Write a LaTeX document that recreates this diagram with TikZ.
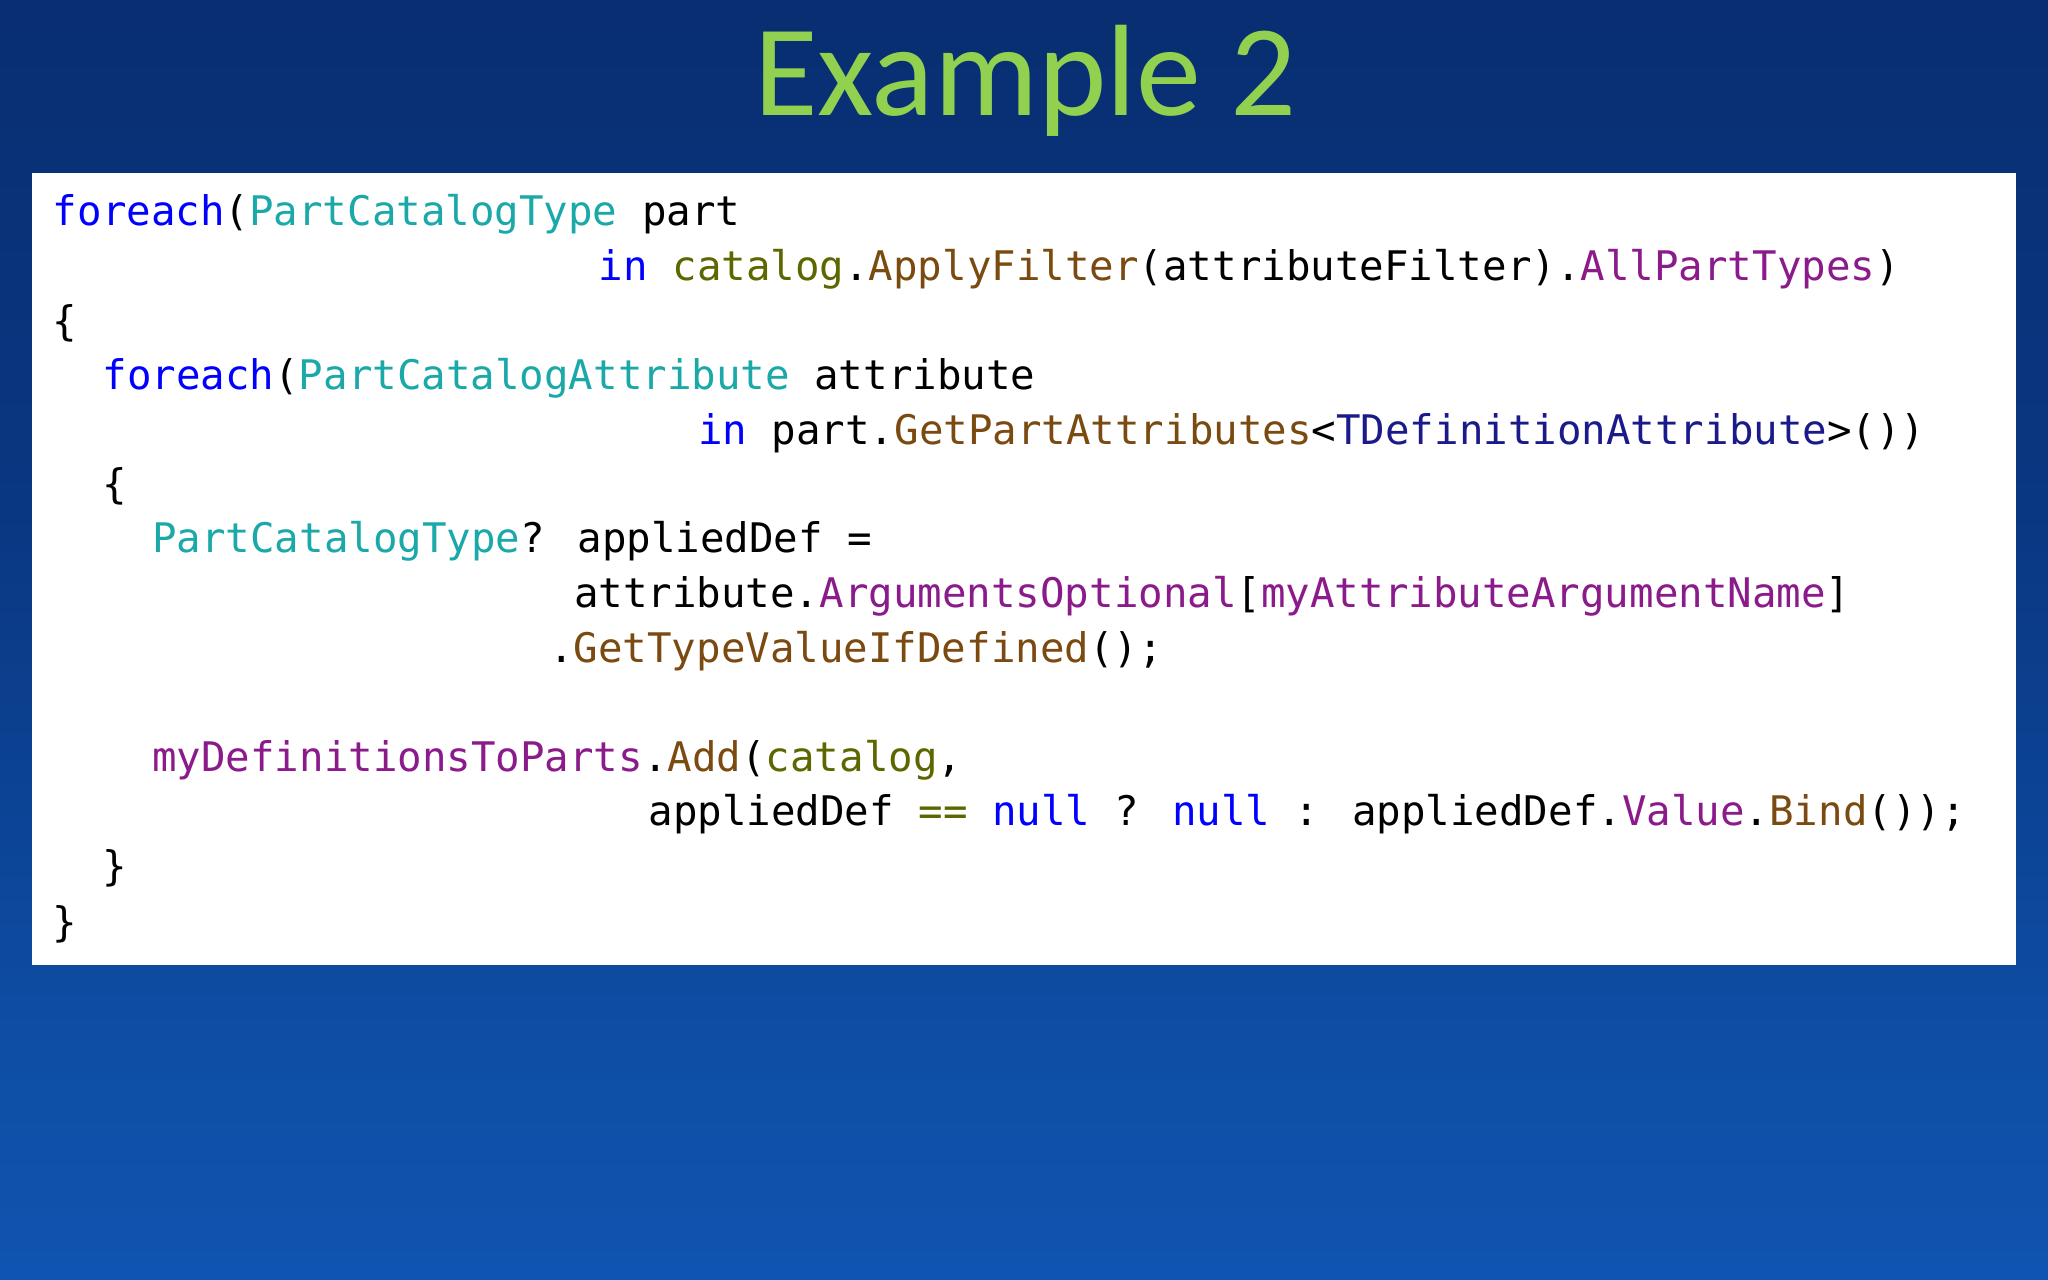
\documentclass[tikz,border=0pt]{standalone}
\usepackage{fontspec}
\newfontfamily\codefont{DejaVu Sans Mono}
\newfontfamily\titlefont{Carlito}
\definecolor{kw}{HTML}{0000FF}
\definecolor{ty}{HTML}{1BA8A8}
\definecolor{me}{HTML}{7A4A10}
\definecolor{pr}{HTML}{8B1A8B}
\definecolor{ol}{HTML}{5E6600}
\definecolor{tp}{HTML}{1A1A8A}
\definecolor{ttl}{HTML}{92D050}
\definecolor{bga}{RGB}{2,8,25}
\definecolor{bgb}{RGB}{4,22,62}
\definecolor{bgc}{RGB}{16,86,180}
\definecolor{bgd}{RGB}{14,80,168}
\definecolor{bge}{RGB}{10,55,130}
\definecolor{bgf}{RGB}{8,42,105}
\definecolor{bgg}{RGB}{5,25,70}
\pgfdeclareverticalshading{bgshade}{100bp}{
  color(0bp)=(bga);
  color(12bp)=(bgb);
  color(22bp)=(bgc);
  color(32bp)=(bgd);
  color(55bp)=(bge);
  color(85bp)=(bgf);
  color(100bp)=(bgg)}
\newcommand{\K}[1]{\textcolor{kw}{#1}}
\newcommand{\T}[1]{\textcolor{ty}{#1}}
\newcommand{\M}[1]{\textcolor{me}{#1}}
\newcommand{\PP}[1]{\textcolor{pr}{#1}}
\newcommand{\OL}[1]{\textcolor{ol}{#1}}
\newcommand{\TP}[1]{\textcolor{tp}{#1}}
\begin{document}
\begin{tikzpicture}[x=0.01306cm,y=-0.01306cm,
  code/.style={anchor=base west,inner sep=0,font=\codefont\fontsize{11.6pt}{14pt}\selectfont,text=black}]
\useasboundingbox (0,0) rectangle (1568,980);
\shade[shading=bgshade] (0,0) rectangle (1568,980);
\node[font=\titlefont\fontsize{37pt}{40pt}\selectfont, text=ttl] (title) at (785,62) {Example 2};
\node[draw=none, fill=white, minimum width=1519*0.01306cm, minimum height=606*0.01306cm, anchor=north west, inner sep=0] (box) at (24,132) {};
\def\cw{19}
\node[code] (l0) at (40,173) {\K{foreach}(\T{PartCatalogType} part};
\node[code] (l1) at (40+22*\cw,215) {\K{in} \OL{catalog}.\M{ApplyFilter}(attributeFilter).\PP{AllPartTypes})};
\node[code] (l2) at (40,257) {\{};
\node[code] (l3) at (40+2*\cw,298) {\K{foreach}(\T{PartCatalogAttribute} attribute};
\node[code] (l4) at (40+26*\cw,340) {\K{in} part.\M{GetPartAttributes}<\TP{TDefinitionAttribute}>())};
\node[code] (l5) at (40+2*\cw,382) {\{};
\node[code] (l6) at (40+4*\cw,423) {\T{PartCatalogType}? appliedDef =};
\node[code] (l7) at (40+21*\cw,465) {attribute.\PP{ArgumentsOptional}[\PP{myAttributeArgumentName}]};
\node[code] (l8) at (40+20*\cw,507) {.\M{GetTypeValueIfDefined}();};
\node[code] (l10) at (40+4*\cw,591) {\PP{myDefinitionsToParts}.\M{Add}(\OL{catalog},};
\node[code] (l11) at (40+24*\cw,632) {appliedDef \OL{==} \K{null} ? \K{null} : appliedDef.\PP{Value}.\M{Bind}());};
\node[code] (l12) at (40+2*\cw,674) {\}};
\node[code] (l13) at (40,717) {\}};
\end{tikzpicture}
\end{document}
